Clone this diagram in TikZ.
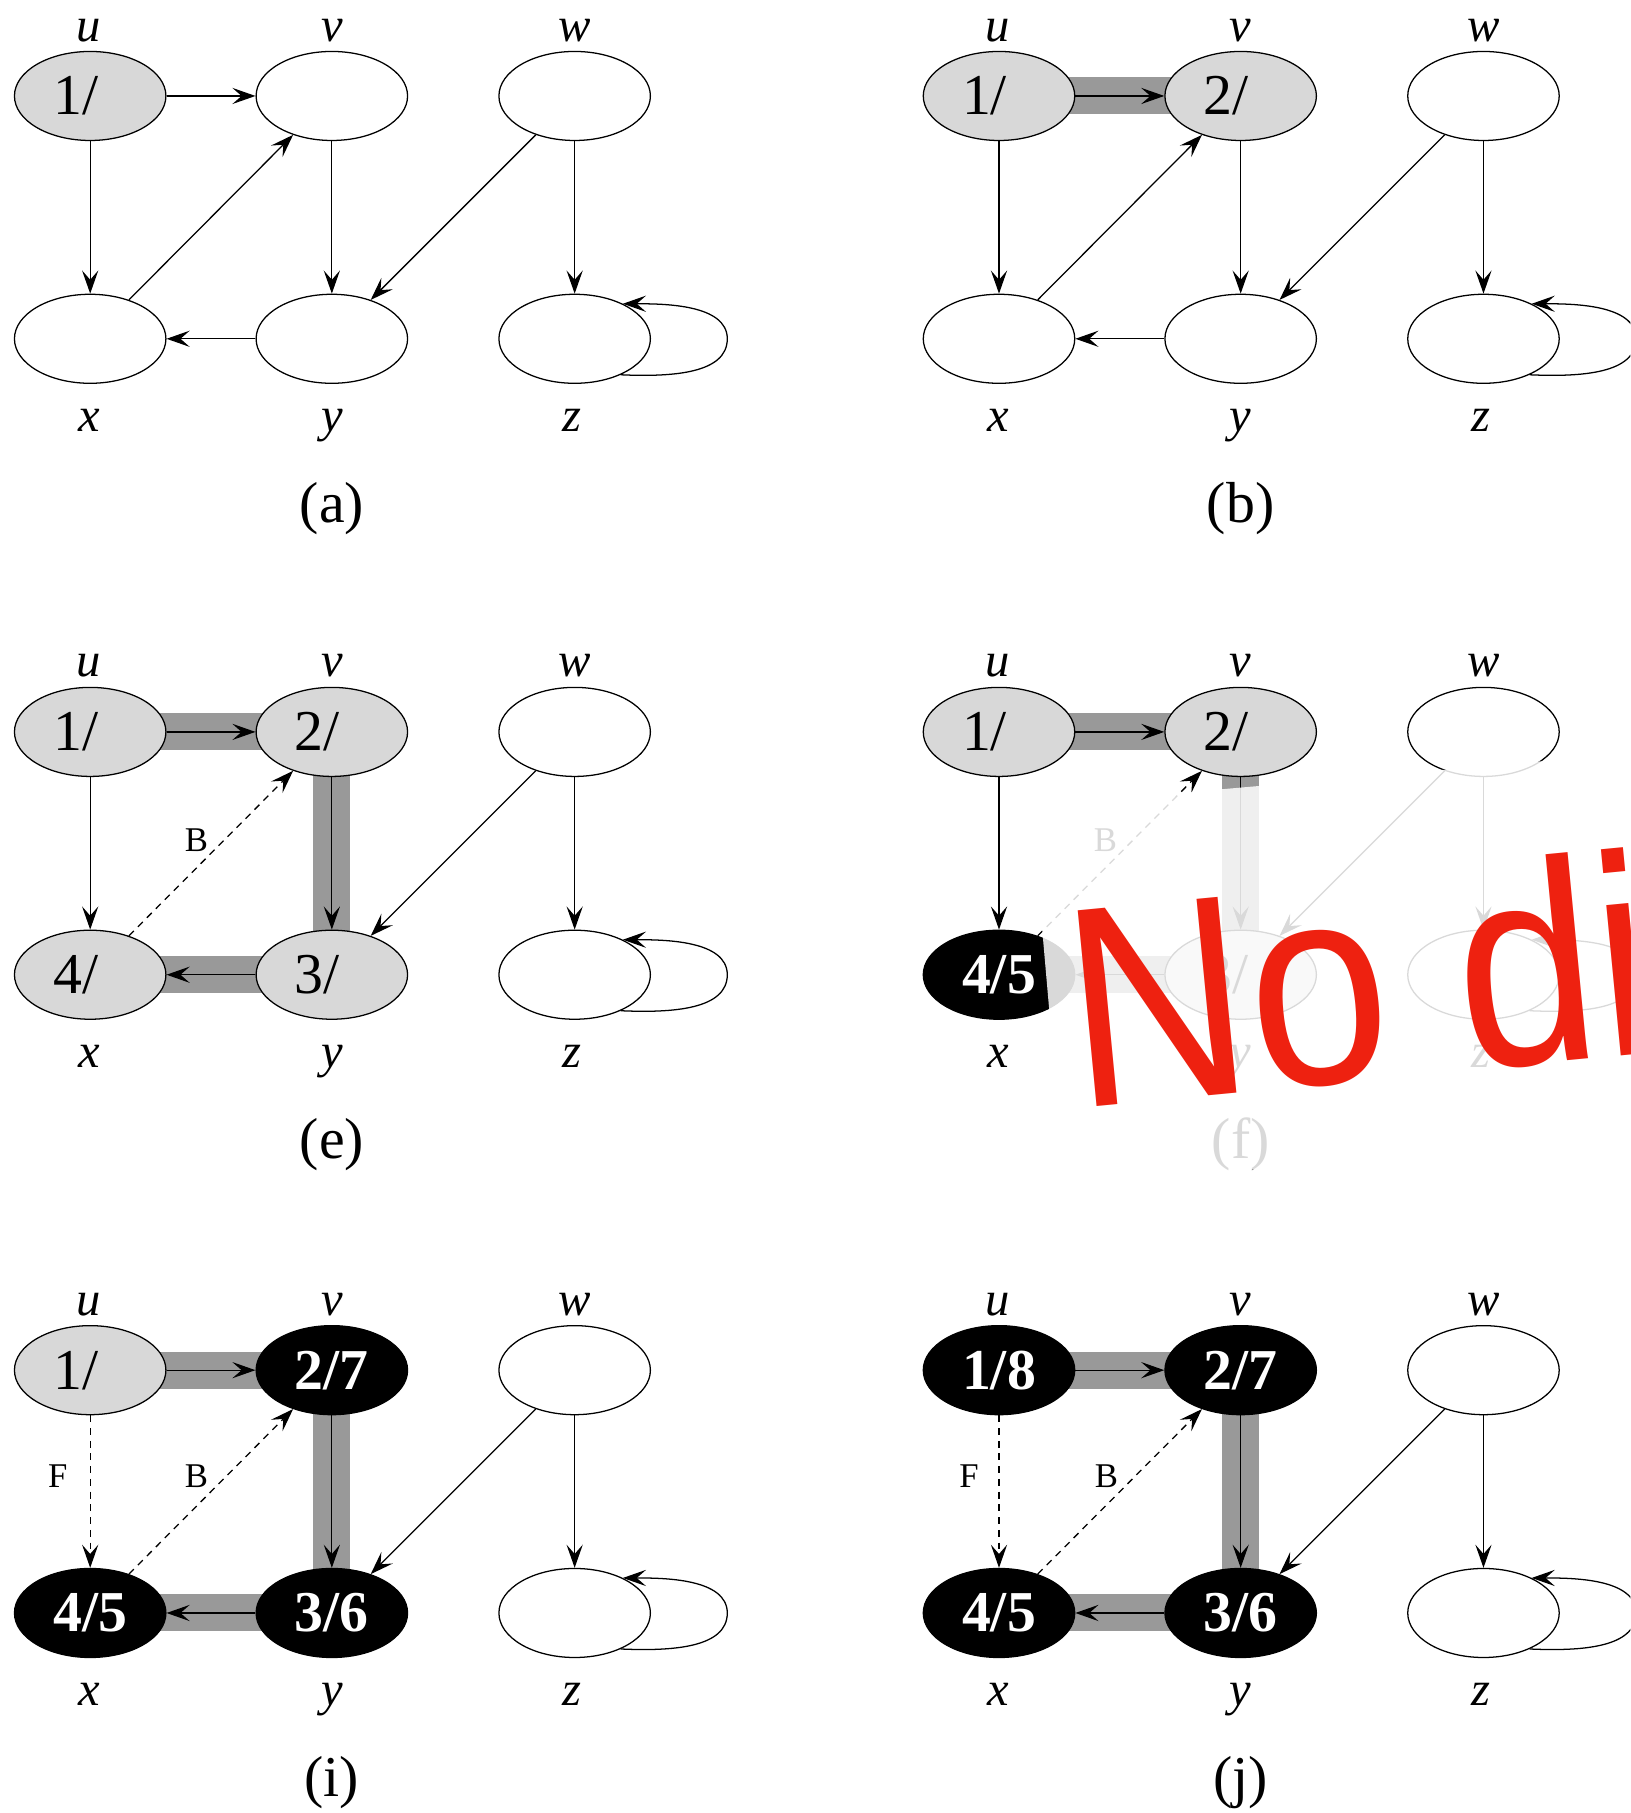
\documentclass[tikz,border=0pt]{standalone}
\usepackage{fontspec}
\setmainfont{Liberation Serif}
\newfontfamily\wmfont{Liberation Sans}
\usetikzlibrary{arrows.meta,shapes.geometric}
\pgfdeclarelayer{background}
\pgfsetlayers{background,main}
\definecolor{nodegray}{RGB}{216,216,216}
\definecolor{bandgray}{RGB}{153,153,153}
\definecolor{wmred}{RGB}{238,33,16}
\tikzset{
  vtx/.style={ellipse, draw=black, line width=0.55pt, minimum width=65.5pt, minimum height=38.5pt, inner sep=0pt, font=\fontsize{25}{30}\selectfont},
  wv/.style={vtx, fill=white},
  gv/.style={vtx, fill=nodegray},
  bv/.style={vtx, fill=black, text=white, font=\fontsize{25}{30}\selectfont\bfseries},
  vname/.style={anchor=base, inner sep=0pt, font=\fontsize{21}{25}\selectfont\itshape},
  captxt/.style={anchor=base, inner sep=0pt, font=\fontsize{25}{30}\selectfont},
  etype/.style={inner sep=0pt, font=\fontsize{15}{18}\selectfont},
  arr/.style={line width=0.55pt, -{Stealth[length=10pt,width=7pt,inset=4pt]}},
  nontree/.style={arr, dash pattern=on 3pt off 2.5pt},
  treeband/.style={line width=16pt, draw=bandgray},
}
\newcommand\open[1]{#1/\phantom{8}\hspace{7pt}}
\newcommand\vnames[1]{%
  \node[vname] (#1-lu) at (77,35.5) {u};
  \node[vname] (#1-lv) at (287,35.5) {v};
  \node[vname] (#1-lw) at (497,35.5) {w};
  \node[vname] (#1-lx) at (77,373) {x};
  \node[vname] (#1-ly) at (287,373) {y};
  \node[vname] (#1-lz) at (495,373) {z};
}
\newcommand\zloop[1]{%
  \draw[arr] (#1-z.-38) .. controls +(45,2) and +(0,30) .. ([xshift=66pt]#1-z.center)
    .. controls +(0,-30) and +(35,0) .. (#1-z.36);
}
\newcommand\wedges[1]{%
  \draw[arr] (#1-w) -- (#1-y);
  \draw[arr] (#1-w) -- (#1-z);
  \zloop{#1}
}
\newcommand\treebands[1]{%
  \begin{pgfonlayer}{background}
    \draw[treeband] (#1-u.center) -- (#1-v.center);
    \draw[treeband] (#1-v.center) -- (#1-y.center);
    \draw[treeband] (#1-y.center) -- (#1-x.center);
  \end{pgfonlayer}
}
\begin{document}
\begin{tikzpicture}[x=0.5pt, y=-0.5pt]
\useasboundingbox (0,0) rectangle (1410,1568);
\clip (0,0) rectangle (1410,1568);
\begin{pgfonlayer}{background}
  \fill[white] (0,0) rectangle (1410,1568);
\end{pgfonlayer}

% ---------------- (a)
\begin{scope}
  \node[gv] (a-u) at (78,83) {\open{1}};
  \node[wv] (a-v) at (287,83) {};
  \node[wv] (a-w) at (497,83) {};
  \node[wv] (a-x) at (78,293) {};
  \node[wv] (a-y) at (287,293) {};
  \node[wv] (a-z) at (497,293) {};
  \vnames{a}
  \node[captxt] (a-cap) at (287,452) {(a)};
  \draw[arr] (a-u) -- (a-v);
  \draw[arr] (a-u) -- (a-x);
  \draw[arr] (a-x) -- (a-v);
  \draw[arr] (a-v) -- (a-y);
  \draw[arr] (a-y) -- (a-x);
  \wedges{a}
\end{scope}

% ---------------- (b)
\begin{scope}[shift={(786,0)}]
  \node[gv] (b-u) at (78,83) {\open{1}};
  \node[gv] (b-v) at (287,83) {\open{2}};
  \node[wv] (b-w) at (497,83) {};
  \node[wv] (b-x) at (78,293) {};
  \node[wv] (b-y) at (287,293) {};
  \node[wv] (b-z) at (497,293) {};
  \vnames{b}
  \node[captxt] (b-cap) at (287,452) {(b)};
  \begin{pgfonlayer}{background}
    \draw[treeband] (b-u.center) -- (b-v.center);
  \end{pgfonlayer}
  \draw[arr] (b-u) -- (b-v);
  \draw[arr] (b-u) -- (b-x);
  \draw[arr] (b-x) -- (b-v);
  \draw[arr] (b-v) -- (b-y);
  \draw[arr] (b-y) -- (b-x);
  \wedges{b}
\end{scope}

% ---------------- (e)
\begin{scope}[shift={(0,550)}]
  \node[gv] (e-u) at (78,83) {\open{1}};
  \node[gv] (e-v) at (287,83) {\open{2}};
  \node[wv] (e-w) at (497,83) {};
  \node[gv] (e-x) at (78,293) {\open{4}};
  \node[gv] (e-y) at (287,293) {\open{3}};
  \node[wv] (e-z) at (497,293) {};
  \vnames{e}
  \node[captxt] (e-cap) at (287,452) {(e)};
  \treebands{e}
  \draw[arr] (e-u) -- (e-v);
  \draw[arr] (e-u) -- (e-x);
  \draw[nontree] (e-x) -- (e-v);
  \node[etype] (e-B) at (170,177) {B};
  \draw[arr] (e-v) -- (e-y);
  \draw[arr] (e-y) -- (e-x);
  \wedges{e}
\end{scope}

% ---------------- (f)
\begin{scope}[shift={(786,550)}]
  \node[gv] (f-u) at (78,83) {\open{1}};
  \node[gv] (f-v) at (287,83) {\open{2}};
  \node[wv] (f-w) at (497,83) {};
  \node[bv] (f-x) at (78,293) {4/5};
  \node[gv] (f-y) at (287,293) {\open{3}};
  \node[wv] (f-z) at (497,293) {};
  \vnames{f}
  \node[captxt] (f-cap) at (287,452) {(f)};
  \treebands{f}
  \draw[arr] (f-u) -- (f-v);
  \draw[arr] (f-u) -- (f-x);
  \draw[nontree] (f-x) -- (f-v);
  \node[etype] (f-B) at (170,177) {B};
  \draw[arr] (f-v) -- (f-y);
  \draw[arr] (f-y) -- (f-x);
  \wedges{f}
\end{scope}

% ---------------- (i)
\begin{scope}[shift={(0,1102)}]
  \node[gv] (i-u) at (78,83) {\open{1}};
  \node[bv] (i-v) at (287,83) {2/7};
  \node[wv] (i-w) at (497,83) {};
  \node[bv] (i-x) at (78,293) {4/5};
  \node[bv] (i-y) at (287,293) {3/6};
  \node[wv] (i-z) at (497,293) {};
  \vnames{i}
  \node[captxt] (i-cap) at (287,452) {(i)};
  \treebands{i}
  \draw[arr] (i-u) -- (i-v);
  \draw[nontree] (i-u) -- (i-x);
  \node[etype] (i-F) at (50,175) {F};
  \draw[nontree] (i-x) -- (i-v);
  \node[etype] (i-B) at (170,175) {B};
  \draw[arr] (i-v) -- (i-y);
  \draw[arr] (i-y) -- (i-x);
  \wedges{i}
\end{scope}

% ---------------- (j)
\begin{scope}[shift={(786,1102)}]
  \node[bv] (j-u) at (78,83) {1/8};
  \node[bv] (j-v) at (287,83) {2/7};
  \node[wv] (j-w) at (497,83) {};
  \node[bv] (j-x) at (78,293) {4/5};
  \node[bv] (j-y) at (287,293) {3/6};
  \node[wv] (j-z) at (497,293) {};
  \vnames{j}
  \node[captxt] (j-cap) at (287,452) {(j)};
  \treebands{j}
  \draw[arr] (j-u) -- (j-v);
  \draw[nontree] (j-u) -- (j-x);
  \node[etype] (j-F) at (52,175) {F};
  \draw[nontree] (j-x) -- (j-v);
  \node[etype] (j-B) at (171,175) {B};
  \draw[arr] (j-v) -- (j-y);
  \draw[arr] (j-y) -- (j-x);
  \wedges{j}
\end{scope}

% ---------------- fade and watermark over (f)
\fill[white, fill opacity=0.85, shift={(892,697)}, rotate=5] (0,0) rectangle (600,330);
\begin{scope}[shift={(930.6,958.6)}, rotate=5.5, xscale=0.88]
  \node[transform shape, anchor=base west, inner sep=0pt, text=wmred,
        font=\wmfont\fontsize{123.6}{130}\selectfont] (wm) at (0,0) {No di};
\end{scope}
\end{tikzpicture}
\end{document}
